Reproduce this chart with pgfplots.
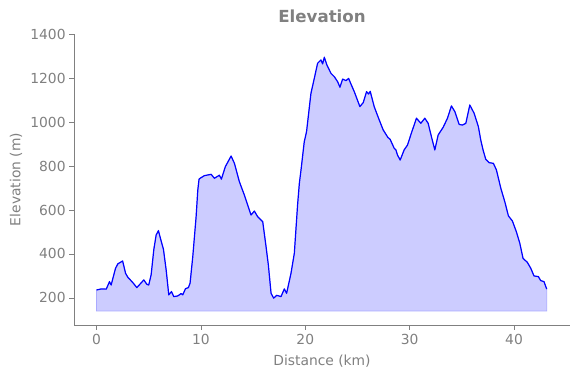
\documentclass[border=0pt]{standalone}
\usepackage{fontspec}
\setmainfont{DejaVu Sans}
\usepackage{pgfplots}
\pgfplotsset{compat=1.18}
\usepackage{pgfplotstable}
\usepgfplotslibrary{fillbetween}
\definecolor{txtgray}{HTML}{808080}
\definecolor{fillblue}{HTML}{CCCCFF}
\definecolor{edgeblue}{HTML}{AAAAFF}
\pgfplotstableread{
km elev
0.00 236
0.45 241
0.93 240
1.24 274
1.40 259
1.82 335
2.04 355
2.50 368
2.78 312
3.00 294
3.47 270
3.86 247
4.53 282
4.82 262
5.00 259
5.23 305
5.49 421
5.71 486
5.93 506
6.12 471
6.41 421
6.67 327
6.92 214
7.18 229
7.40 206
7.78 209
8.10 220
8.26 214
8.52 242
8.80 247
8.96 267
9.22 388
9.54 570
9.70 690
9.82 740
9.92 744
10.33 756
10.98 762
11.29 744
11.77 758
11.96 740
12.34 797
12.89 845
13.21 812
13.68 729
14.16 668
14.80 577
15.12 595
15.44 569
15.92 547
16.24 433
16.46 350
16.72 221
16.97 199
17.26 212
17.67 206
17.99 241
18.21 221
18.63 312
18.95 403
19.26 623
19.43 721
19.59 782
19.90 910
20.12 956
20.54 1130
20.86 1198
21.18 1267
21.50 1282
21.66 1264
21.82 1294
22.07 1259
22.46 1221
22.78 1206
23.10 1183
23.32 1158
23.58 1195
23.90 1188
24.15 1198
24.37 1173
24.69 1138
25.23 1070
25.55 1088
25.87 1138
26.06 1127
26.22 1139
26.60 1070
27.02 1017
27.46 964
27.91 930
28.13 921
28.52 880
28.68 873
28.83 850
29.09 827
29.47 873
29.79 895
30.21 956
30.65 1017
31.07 994
31.45 1017
31.77 994
32.12 926
32.41 873
32.73 941
33.21 976
33.62 1017
34.00 1073
34.33 1047
34.74 989
35.05 986
35.38 994
35.76 1077
36.17 1040
36.58 979
36.81 918
37.03 873
37.29 830
37.61 815
38.02 812
38.31 782
38.73 699
39.11 638
39.46 573
39.84 550
40.22 501
40.55 449
40.86 380
41.27 362
41.60 335
41.91 300
42.33 297
42.55 279
42.87 274
43.13 240
}\elevdata
\pgfplotstableread{
km elev
0.00 141
43.13 141
}\basedata
\begin{document}
\begin{tikzpicture}
\begin{axis}[
  name=main,
  at={(0,0)}, anchor=south west,
  scale only axis,
  width=496bp, height=291bp,
  xmin=-2.16, xmax=45.36,
  ymin=77, ymax=1400,
  axis lines=left,
  axis line style={txtgray, line width=0.8bp, -},
  xtick={0,10,20,30,40},
  ytick={200,400,600,800,1000,1200,1400},
  tick style={txtgray, line width=0.8bp},
  tick align=outside,
  major tick length=4.9bp,
  font=\fontsize{13.9}{16}\selectfont,
  ticklabel style={text=txtgray, font=\fontsize{13.9}{16}\selectfont},
  /pgf/number format/assume math mode=true,
  /pgf/number format/1000 sep={},
  xticklabel style={yshift=-0.5bp},
  label style={text=txtgray, font=\fontsize{13.9}{16}\selectfont},
  xlabel={Distance (km)},
  ylabel={Elevation (m)},
  xlabel style={at={(axis description cs:0.5,-0.124)}, anchor=center},
  ylabel style={at={(axis description cs:-0.117,0.5)}, anchor=center, rotate=0},
  title={Elevation},
  title style={text=txtgray, font=\fontsize{16.7}{19}\selectfont\bfseries, at={(axis description cs:0.5,1.04)}, anchor=center},
  clip=false,
]
\addplot[name path=elev, draw=none, forget plot] table[x=km, y=elev] {\elevdata};
\addplot[name path=base, draw=none, forget plot] table[x=km, y=elev] {\basedata};
\addplot[fill=fillblue, draw=edgeblue, line width=0.8bp] fill between[of=elev and base];
\addplot[blue, line width=1.2bp, line join=round, mark=none] table[x=km, y=elev] {\elevdata};
\end{axis}
\path (-74bp,-53bp) rectangle (506bp,325bp);
\end{tikzpicture}
\end{document}
